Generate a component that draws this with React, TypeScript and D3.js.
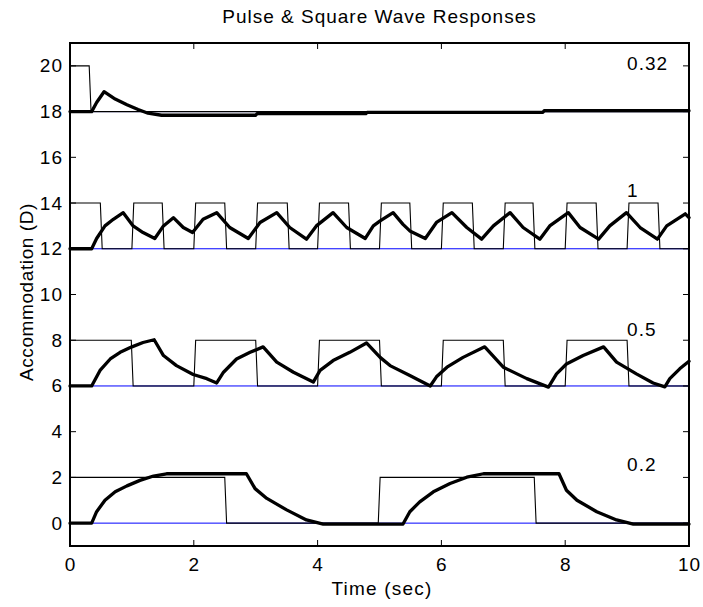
import React from "react";
import * as d3 from "d3";

// ---- data ----
const X_TICKS = [0, 2, 4, 6, 8, 10];
const Y_TICKS = [0, 2, 4, 6, 8, 10, 12, 14, 16, 18, 20];
const TITLE = "Pulse & Square Wave Responses";
const X_LABEL = "Time (sec)";
const Y_LABEL = "Accommodation (D)";

const panelLabels = ["0.32", "1", "0.5", "0.2"];
const panelBase = [18, 12, 6, 0];
const panelAmp = [2, 2, 2, 2];
const panelLabelY = [20.1, 14.55, 8.45, 2.55];

// stimulus edge times (rise / fall) for each panel
const stim032Rise = [0];
const stim032Fall = [0.31];
const stim1Rise = [0, 1, 2, 3, 4, 5, 6, 7, 8, 9];
const stim1Fall = [0.49, 1.49, 2.5, 3.51, 4.5, 5.49, 6.5, 7.48, 8.5, 9.5];
const stim05Rise = [0, 2, 4, 6, 8];
const stim05Fall = [0.99, 3.0, 5.0, 7.0, 9.0];
const stim02Rise = [0, 4.98];
const stim02Fall = [2.5, 7.5];

// responses [time, diopters]
const resp032: [number, number][] = [
  [0, 18], [0.35, 18], [0.43, 18.4], [0.55, 18.87], [0.73, 18.55], [0.92, 18.3],
  [1.1, 18.09], [1.26, 17.93], [1.48, 17.84], [3.0, 17.84], [3.02, 17.91],
  [4.78, 17.91], [4.8, 17.97], [7.64, 17.97], [7.66, 18.04], [10, 18.04],
];
const resp1: [number, number][] = [
  [0, 12], [0.35, 12], [0.43, 12.45], [0.565, 13.0], [0.7, 13.29], [0.86, 13.58],
  [1.02, 13.0], [1.18, 12.71], [1.37, 12.45], [1.51, 13.0], [1.67, 13.36],
  [1.83, 12.93], [1.98, 12.71], [2.15, 13.29], [2.37, 13.58], [2.58, 12.93],
  [2.88, 12.45], [3.07, 13.15], [3.34, 13.58], [3.55, 12.93], [3.82, 12.42],
  [3.98, 13.0], [4.25, 13.58], [4.47, 12.93], [4.77, 12.45], [4.9, 13.0],
  [5.01, 13.22], [5.22, 13.58], [5.38, 13.07], [5.49, 12.78], [5.74, 12.45],
  [5.92, 13.15], [6.17, 13.58], [6.41, 12.93], [6.65, 12.42], [6.84, 13.0],
  [7.11, 13.58], [7.32, 12.93], [7.59, 12.42], [7.75, 13.0], [8.05, 13.58],
  [8.24, 12.93], [8.54, 12.42], [8.72, 13.0], [8.99, 13.58], [9.21, 12.93],
  [9.49, 12.42], [9.64, 13.0], [9.94, 13.53], [10, 13.36],
];
const resp05: [number, number][] = [
  [0, 6], [0.35, 6], [0.4, 6.25], [0.485, 6.68], [0.65, 7.18], [0.81, 7.47],
  [1.0, 7.71], [1.18, 7.9], [1.36, 8.02], [1.51, 7.33], [1.72, 6.89], [1.99, 6.5],
  [2.21, 6.32], [2.37, 6.13], [2.48, 6.6], [2.69, 7.18], [2.91, 7.47], [3.12, 7.71],
  [3.34, 7.04], [3.61, 6.6], [3.93, 6.17], [4.04, 6.68], [4.25, 7.11], [4.52, 7.47],
  [4.79, 7.88], [5.01, 7.25], [5.17, 6.89], [5.49, 6.46], [5.82, 6.0], [5.92, 6.4],
  [6.09, 6.82], [6.35, 7.25], [6.7, 7.71], [7.0, 6.82], [7.38, 6.32], [7.73, 5.95],
  [7.86, 6.53], [8.02, 6.96], [8.29, 7.33], [8.62, 7.71], [8.83, 7.04], [9.15, 6.53],
  [9.42, 6.13], [9.61, 5.96], [9.69, 6.32], [9.85, 6.75], [10, 7.08],
];
const resp02: [number, number][] = [
  [0, 0], [0.35, 0], [0.43, 0.5], [0.565, 1.0], [0.73, 1.37], [0.92, 1.63],
  [1.13, 1.87], [1.35, 2.06], [1.56, 2.16], [2.85, 2.16], [2.99, 1.51], [3.18, 1.08],
  [3.5, 0.58], [3.82, 0.14], [4.09, -0.04], [5.38, -0.04], [5.49, 0.5], [5.65, 0.93],
  [5.87, 1.37], [6.14, 1.73], [6.41, 2.01], [6.68, 2.16], [7.9, 2.16], [8.02, 1.44],
  [8.19, 1.0], [8.51, 0.5], [8.83, 0.14], [9.1, -0.04], [10, -0.04],
];

const stimRises = [stim032Rise, stim1Rise, stim05Rise, stim02Rise];
const stimFalls = [stim032Fall, stim1Fall, stim05Fall, stim02Fall];
const responses = [resp032, resp1, resp05, resp02];

// ---- layout ----
const W = 703, H = 607;
const L = 70, R = 689, T = 43, B = 546;
const RAMP = 0.03;
const FONT = "'Liberation Sans', Arial, Helvetica, sans-serif";
const FS = 19;

function stimPoints(rise: number[], fall: number[], base: number, amp: number): [number, number][] {
  const ev = [
    ...rise.map((t) => ({ t, up: true })),
    ...fall.map((t) => ({ t, up: false })),
  ].sort((a, b) => a.t - b.t);
  const pts: [number, number][] = [];
  let cur = base;
  for (const e of ev) {
    const target = e.up ? base + amp : base;
    if (e.t === 0) {
      cur = target;
      pts.push([0, cur]);
      continue;
    }
    if (pts.length === 0) pts.push([0, cur]);
    pts.push([e.t, cur]);
    pts.push([e.t + RAMP, target]);
    cur = target;
  }
  pts.push([10, cur]);
  return pts;
}

export default function App() {
  const x = d3.scaleLinear().domain([0, 10]).range([L, R]);
  const y = d3.scaleLinear().domain([-1, 21]).range([B, T]);
  const line = d3.line<[number, number]>().x((d) => x(d[0])).y((d) => y(d[1]));
  const TL = 6;

  return (
    <svg width={W} height={H} style={{ position: "absolute", left: 0, top: 0, background: "#fff" }}
      fontFamily={FONT}>
      <rect x={0} y={0} width={W} height={H} fill="#fff" />
      <text x={(L + R) / 2} y={23} fontSize={FS} letterSpacing={1} textAnchor="middle" fill="#000">{TITLE}</text>

      {/* baselines */}
      {panelBase.map((b, i) => (
        <path key={"bl" + i} d={line([[0, b], [10, b]]) || ""} stroke="#0000ff" strokeWidth={1} fill="none" />
      ))}
      {/* stimuli */}
      {panelBase.map((b, i) => (
        <path key={"st" + i} d={line(stimPoints(stimRises[i], stimFalls[i], b, panelAmp[i])) || ""}
          stroke="#000" strokeWidth={1.1} fill="none" />
      ))}
      {/* responses */}
      {responses.map((r, i) => (
        <path key={"rs" + i} d={line(r) || ""} stroke="#000" strokeWidth={3.3} fill="none"
          strokeLinejoin="round" strokeLinecap="round" />
      ))}

      {/* panel labels */}
      {panelLabels.map((s, i) => (
        <text key={"pl" + i} x={x(9.0)} y={y(panelLabelY[i])} fontSize={FS} letterSpacing={1}
          dominantBaseline="central" fill="#000">{s}</text>
      ))}

      {/* ticks */}
      {Y_TICKS.map((v) => (
        <g key={"yt" + v}>
          <line x1={L} x2={L + TL} y1={y(v)} y2={y(v)} stroke="#000" strokeWidth={1} />
          <line x1={R} x2={R - TL} y1={y(v)} y2={y(v)} stroke="#000" strokeWidth={1} />
          <text x={63} y={y(v)} fontSize={FS} letterSpacing={1} textAnchor="end" dominantBaseline="central" fill="#000">{v}</text>
        </g>
      ))}
      {X_TICKS.map((v) => (
        <g key={"xt" + v}>
          <line x1={x(v)} x2={x(v)} y1={B} y2={B - TL} stroke="#000" strokeWidth={1} />
          <line x1={x(v)} x2={x(v)} y1={T} y2={T + TL} stroke="#000" strokeWidth={1} />
          <text x={x(v) + 0.5} y={571} fontSize={FS} letterSpacing={1} textAnchor="middle" fill="#000">{v}</text>
        </g>
      ))}
      <rect x={L} y={T} width={R - L} height={B - T} fill="none" stroke="#000" strokeWidth={2} />

      <text x={382} y={595} fontSize={FS} letterSpacing={1.2} textAnchor="middle" fill="#000">{X_LABEL}</text>
      <text transform={`translate(33,${292}) rotate(-90)`} fontSize={FS} letterSpacing={0.6} textAnchor="middle" fill="#000">{Y_LABEL}</text>
    </svg>
  );
}
